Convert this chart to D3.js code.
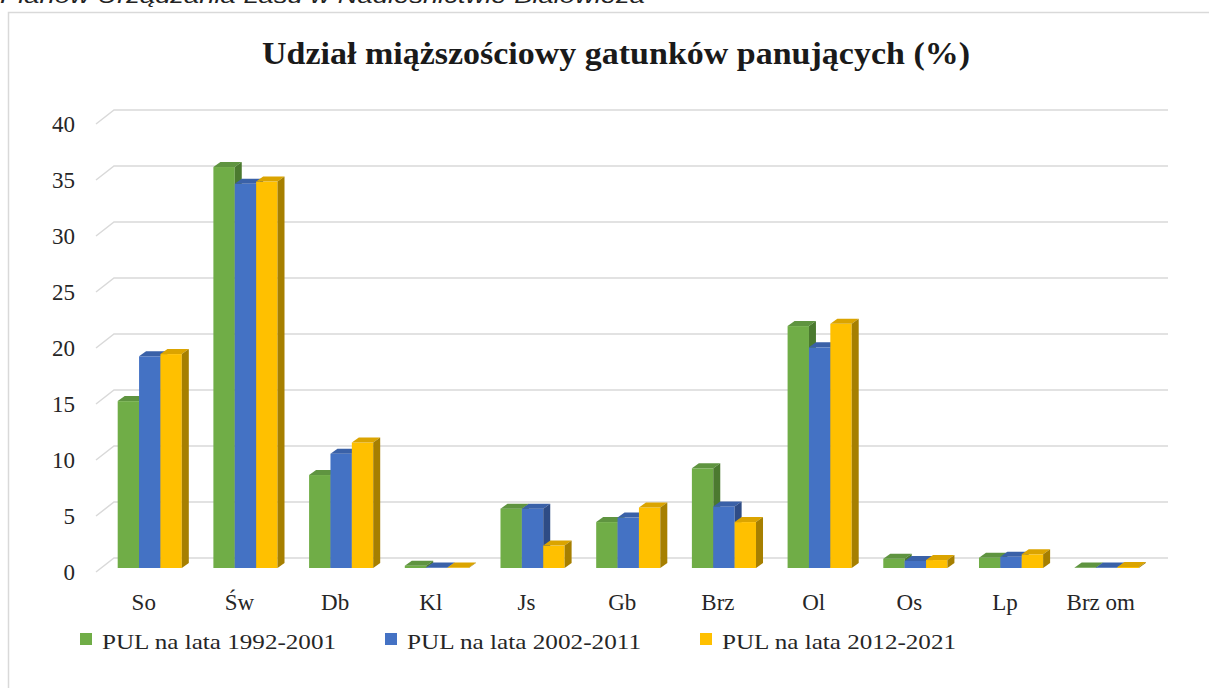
<!DOCTYPE html>
<html><head><meta charset="utf-8">
<script src="https://cdn.jsdelivr.net/npm/d3@7"></script>
<style>body{margin:0;background:#fff}svg{display:block}</style>
</head><body>
<svg id="c" width="1209" height="688"></svg>
<script>
const categories = ["So","Św","Db","Kl","Js","Gb","Brz","Ol","Os","Lp","Brz om"];
const seriesNames = ["PUL na lata 1992-2001","PUL na lata 2002-2011","PUL na lata 2012-2021"];
const s1992 = [14.9, 35.8, 8.3, 0.2, 5.3, 4.1, 8.9, 21.6, 0.83, 0.92, 0.05];
const s2002 = [18.9, 34.3, 10.2, 0.05, 5.3, 4.5, 5.5, 19.7, 0.63, 1.0, 0.05];
const s2012 = [19.1, 34.5, 11.2, 0.05, 2.0, 5.4, 4.1, 21.8, 0.71, 1.22, 0.1];
const yTicks = [0,5,10,15,20,25,30,35,40];
const titleText = "Udział miąższościowy gatunków panujących (%)";
const headerText = "Planów Urządzania Lasu w Nadleśnictwie Białowieża";

const seriesValues = [s1992, s2002, s2012];
const front = ["#70AD47","#4472C4","#FFC000"];
const topC = ["#5f9440","#3a61a8","#dba400"];
const sideC = ["#4b7a2f","#2e4c86","#a67f00"];

const svg = d3.select("#c");
const serif = "'Liberation Serif','DejaVu Serif',serif";

// header (clipped at top, as in the reference)
svg.append("text").attr("x",0).attr("y",3)
  .attr("font-family","'Liberation Sans',Arial,sans-serif").attr("font-style","italic")
  .attr("font-size",20).attr("fill","#222")
  .attr("textLength",645).attr("lengthAdjust","spacingAndGlyphs").text(headerText);

// frame
svg.append("rect").attr("x",8.5).attr("y",12.5).attr("width",1400).attr("height",900)
  .attr("fill","#fff").attr("stroke","#d9d9d9").attr("stroke-width",1.5);

// title
svg.append("text").attr("x",616).attr("y",64).attr("text-anchor","middle")
  .attr("font-family",serif).attr("font-weight","bold").attr("font-size",32).attr("fill","#1a1a1a")
  .attr("textLength",708).attr("lengthAdjust","spacingAndGlyphs").text(titleText);

const y = d3.scaleLinear().domain([0,40]).range([568,120]);
const x = d3.scaleBand().domain(categories).range([101.9,1154.6]).paddingInner(0.33).paddingOuter(0.165);
const xs = d3.scaleBand().domain(d3.range(3)).range([0,x.bandwidth()]);
const dx = 7, dy = 5;
const backOff = -10, frontOff = 4, xBack0 = 114, xFront0 = 96, xEnd = 1168;

// gridlines + tick labels
const g = svg.append("g");
yTicks.forEach(t => {
  const yy = y(t);
  g.append("path")
   .attr("d", `M${xFront0},${yy+frontOff}L${xBack0},${yy+backOff}L${xEnd},${yy+backOff}`)
   .attr("fill","none").attr("stroke","#d9d9d9").attr("stroke-width",1.5);
  svg.append("text").attr("x",75).attr("y",yy+4.5).attr("text-anchor","end")
   .attr("dominant-baseline","central").attr("font-family",serif).attr("font-size",23)
   .attr("fill","#262626").text(t);
});

// bars
const bars = svg.append("g");
categories.forEach((c,i) => {
  seriesValues.forEach((vals,s) => {
    const x0 = x(c) + xs(s), w = xs.bandwidth();
    const yt = y(vals[i]), yb = y(0);
    bars.append("rect").attr("x",x0).attr("y",yt).attr("width",w).attr("height",yb-yt).attr("fill",front[s]);
    bars.append("path").attr("d",`M${x0},${yt}L${x0+dx},${yt-dy}L${x0+w+dx},${yt-dy}L${x0+w},${yt}Z`).attr("fill",topC[s]);
    bars.append("path").attr("d",`M${x0+w},${yt}L${x0+w+dx},${yt-dy}L${x0+w+dx},${yb-dy}L${x0+w},${yb}Z`).attr("fill",sideC[s]);
  });
  svg.append("text").attr("x",x(c)+x.bandwidth()/2-6).attr("y",610).attr("text-anchor","middle")
   .attr("font-family",serif).attr("font-size",23).attr("fill","#262626").text(c);
});

// legend
const legX = [80,385,700];
seriesNames.forEach((n,s) => {
  svg.append("rect").attr("x",legX[s]).attr("y",633).attr("width",12).attr("height",12).attr("fill",front[s]);
  svg.append("text").attr("x",legX[s]+22).attr("y",649).attr("font-family",serif).attr("font-size",22)
    .attr("fill","#262626").attr("textLength",234).attr("lengthAdjust","spacingAndGlyphs").text(n);
});
</script>
</body></html>
